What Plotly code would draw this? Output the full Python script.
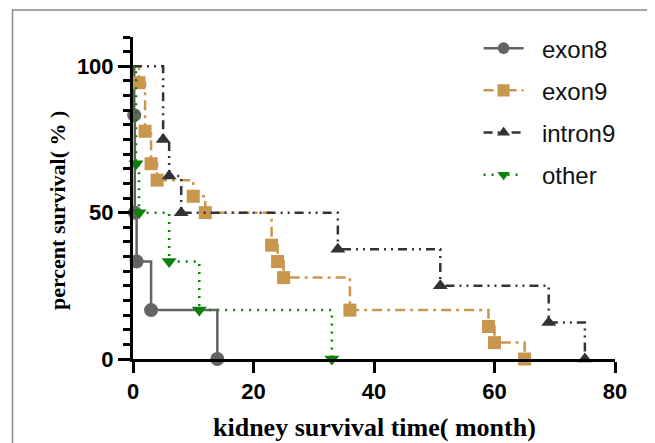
import plotly.graph_objects as go

# Kaplan-Meier step data (time in months, percent survival after each event)
exon8_t = [0, 0.2, 0.3, 0.6, 3, 14]
exon8_s = [100, 83.3, 50, 33.3, 16.7, 0]

exon9_t = [0, 1, 2, 3, 4, 10, 12, 23, 24, 25, 36, 59, 60, 65]
exon9_s = [100, 94.4, 77.8, 66.7, 61.1, 55.6, 50, 38.9, 33.3, 27.8, 16.7, 11.1, 5.6, 0]

intron9_t = [0, 5, 6, 8, 34, 51, 69, 75]
intron9_s = [100, 75, 62.5, 50, 37.5, 25, 12.5, 0]

other_t = [0, 0.5, 1, 6, 11, 33]
other_s = [100, 66.7, 50, 33.3, 16.7, 0]

x_ticks = [0, 20, 40, 60, 80]
y_ticks = [0, 50, 100]

series = [
    ("exon8", exon8_t, exon8_s, "#636363", "solid", "circle", 14),
    ("exon9", exon9_t, exon9_s, "#C8964C", "10px,5px,3px,5px", "square", 13),
    ("intron9", intron9_t, intron9_s, "#333333", "9px,5px,2px,5px,2px,5px", "triangle-up", 13),
    ("other", other_t, other_s, "#0A7F0A", "2px,6px", "triangle-down", 13),
]

fig = go.Figure()
for name, t, s, color, dash, sym, msize in series:
    sizes = [0] + [msize] * (len(t) - 1)
    fig.add_trace(go.Scatter(
        x=t, y=s, name="\u00a0\u00a0" + name, mode="lines+markers",
        line=dict(color=color, width=2.5, dash=dash, shape="hv"),
        marker=dict(color=color, symbol=sym, size=sizes, opacity=1, line=dict(width=0)),
        cliponaxis=False, legendgroup=name,
    ))

fig.update_layout(
    width=655, height=443,
    margin=dict(l=125, r=48, t=29, b=92),
    plot_bgcolor="white", paper_bgcolor="white",
    showlegend=True,
    legend=dict(x=0.717, y=1.034, xanchor="left", yanchor="top",
                font=dict(family="Liberation Sans, Arial", size=24, color="#111"),
                tracegroupgap=8, bgcolor="rgba(0,0,0,0)", itemwidth=40),
    font=dict(family="Liberation Sans, Arial"),
)
fig.update_xaxes(
    range=[0, 80], tickvals=x_ticks, ticktext=[str(v) for v in x_ticks],
    showgrid=False, zeroline=False, showline=True, linecolor="black", linewidth=3,
    ticks="outside", ticklen=11, tickwidth=3, tickcolor="black",
    tickfont=dict(family="Liberation Sans, Arial", size=22, color="black", weight="bold"),
)
fig.update_yaxes(
    range=[0, 110], tickvals=y_ticks, ticktext=[str(v) for v in y_ticks],
    showgrid=False, zeroline=False, showline=True, linecolor="black", linewidth=3,
    ticks="outside", ticklen=12, tickwidth=3, tickcolor="black",
    tickfont=dict(family="Liberation Sans, Arial", size=22, color="black", weight="bold"),
    minor=dict(dtick=5, tick0=0, ticks="outside", ticklen=7, tickwidth=2.5, tickcolor="black", showgrid=False),
)

fig.add_annotation(text="kidney survival time( month)", xref="paper", yref="paper",
                   x=0.5, y=-0.213, xanchor="center", yanchor="middle", showarrow=False,
                   font=dict(family="Liberation Serif, Times New Roman", size=26, color="black", weight="bold"))
fig.add_annotation(text="percent survival( % )", xref="paper", yref="paper",
                   x=-0.158, y=0.462, xanchor="center", yanchor="middle", showarrow=False, textangle=-90,
                   font=dict(family="Liberation Serif, Times New Roman", size=22, color="black", weight="bold"))

# outer frame
fig.add_shape(type="rect", xref="paper", yref="paper", x0=-0.25, y0=-0.45, x1=1.3, y1=1.084,
              line=dict(color="#8a8a8a", width=1.5), layer="below")

fig.write_html("out.html")
